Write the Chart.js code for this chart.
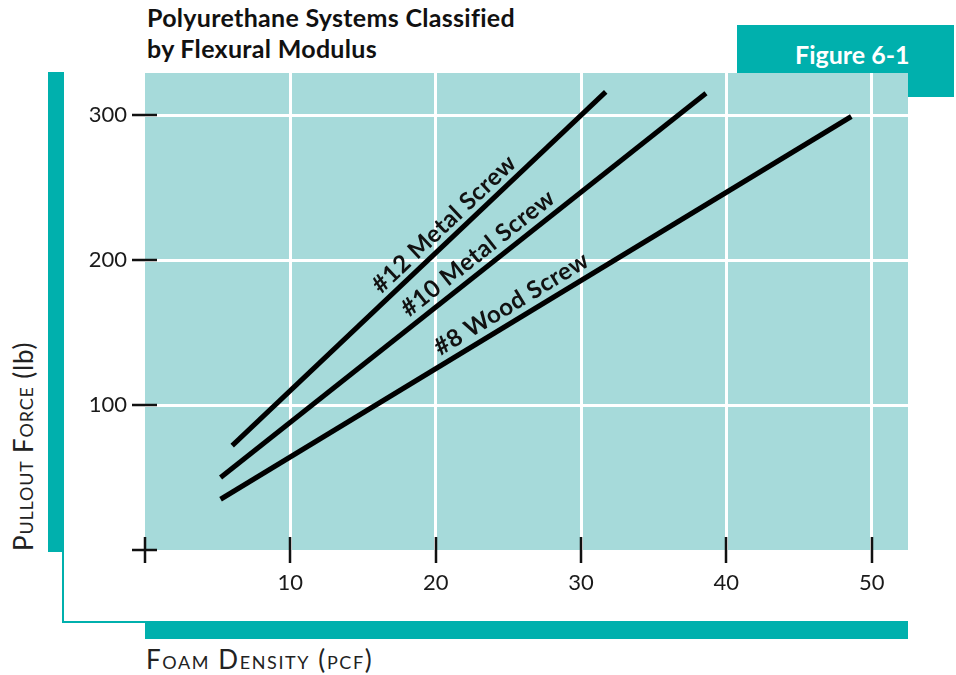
<!DOCTYPE html>
<html>
<head>
<meta charset="utf-8">
<title>Pullout Force vs Foam Density</title>
<script src="https://cdn.jsdelivr.net/npm/chart.js@4.4.1/dist/chart.umd.min.js"></script>
<style>
  body { margin: 0; background: #fff; }
  #page { position: relative; width: 956px; height: 675px; overflow: hidden; font-family: Lato, "Open Sans", sans-serif; }
  .teal { position: absolute; background: #00b0ad; }
  #titulo { position: absolute; left: 147px; top: 2px; font-weight: bold; font-size: 25px; letter-spacing: 0.3px; line-height: 31px; color: #111; }
  #figura { position: absolute; left: 737px; top: 25px; width: 217px; height: 72px; background: #00b0ad; }
  #figura span { position: absolute; left: 58px; top: 14px; color: #fff; font-weight: bold; font-size: 25px; }
  #eixoX { position: absolute; left: 146px; top: 643px; font-size: 26px; letter-spacing: 1.6px; font-variant: small-caps; color: #222; }
  #eixoY { position: absolute; left: 7px; top: 551px; font-size: 26px; letter-spacing: 0.8px; font-variant: small-caps; color: #222;
           transform-origin: 0 0; transform: rotate(-90deg); white-space: nowrap; }
  .min { font-variant: normal; }
  #grafico { position: absolute; left: 0; top: 0; }
</style>
</head>
<body>
<div id="page">
  <!-- molduras em verde-azulado -->
  <div class="teal" style="left:48px; top:72px; width:15px; height:480px;"></div>
  <div class="teal" style="left:62px; top:72px; width:2px; height:551px;"></div>
  <div class="teal" style="left:62px; top:621px; width:84px; height:2px;"></div>
  <div class="teal" style="left:145px; top:621px; width:763px; height:18px;"></div>
  <div id="figura"><span>Figure 6-1</span></div>

  <div id="titulo">Polyurethane Systems Classified<br>by Flexural Modulus</div>
  <div id="eixoY">Pullout Force <span class="min">(lb)</span></div>
  <div id="eixoX">Foam Density (pcf)</div>

  <canvas id="grafico" width="956" height="675"></canvas>
</div>

<script>
// eixos
const densityTicks = [0, 10, 20, 30, 40, 50];
const forceTicks = [0, 100, 200, 300];

// curvas (densidade em pcf, forca em lb)
const screwNames = ["#12 Metal Screw", "#10 Metal Screw", "#8 Wood Screw"];
const metal12Density = [6.0, 31.7];
const metal12Force = [72, 316];
const metal10Density = [5.2, 38.6];
const metal10Force = [50, 315];
const wood8Density = [5.2, 48.6];
const wood8Force = [35, 299];

function pontos(xs, ys) {
  return xs.map((x, i) => ({ x: x, y: ys[i] }));
}

const series = [
  pontos(metal12Density, metal12Force),
  pontos(metal10Density, metal10Force),
  pontos(wood8Density, wood8Force),
];

// fundo da area do grafico
const fundo = {
  id: "fundo",
  beforeDraw(chart) {
    const a = chart.chartArea;
    const c = chart.ctx;
    c.save();
    c.fillStyle = "#a6dada";
    c.fillRect(a.left, a.top, a.right - a.left, a.bottom - a.top);
    c.restore();
  },
};

// marcas pretas cruzando a borda dos eixos
const marcas = {
  id: "marcas",
  afterDraw(chart) {
    const c = chart.ctx;
    const xs = chart.scales.x;
    const ys = chart.scales.y;
    const a = chart.chartArea;
    c.save();
    c.strokeStyle = "#111";
    c.lineWidth = 2.5;
    c.beginPath();
    xs.ticks.forEach((t) => {
      const px = Math.round(xs.getPixelForValue(t.value));
      c.moveTo(px, a.bottom - 13);
      c.lineTo(px, a.bottom + 13);
    });
    ys.ticks.forEach((t) => {
      const py = Math.round(ys.getPixelForValue(t.value));
      c.moveTo(a.left - 13, py);
      c.lineTo(a.left + 12, py);
    });
    c.stroke();
    c.restore();
  },
};

// nomes escritos ao longo de cada reta
const rotulos = {
  id: "rotulos",
  afterDatasetsDraw(chart, args, opts) {
    const c = chart.ctx;
    const xs = chart.scales.x;
    c.save();
    c.font = "bold 24px Lato, sans-serif";
    c.letterSpacing = "0.5px";
    c.fillStyle = "#111";
    c.textAlign = "center";
    c.textBaseline = "middle";
    chart.data.datasets.forEach((ds, i) => {
      const pts = chart.getDatasetMeta(i).data;
      const p0 = pts[0], p1 = pts[pts.length - 1];
      const ang = Math.atan2(p1.y - p0.y, p1.x - p0.x);
      const px = xs.getPixelForValue(opts.at[i]);
      const py = p0.y + (p1.y - p0.y) * (px - p0.x) / (p1.x - p0.x);
      const d = opts.gap[i];
      c.save();
      c.translate(px + Math.sin(ang) * d, py - Math.cos(ang) * d);
      c.rotate(ang);
      c.fillText(ds.label, 0, 0);
      c.restore();
    });
    c.restore();
  },
};

const ctx = document.getElementById("grafico").getContext("2d");

const grafico = new Chart(ctx, {
  type: "line",
  data: {
    datasets: series.map((s, i) => ({
      label: screwNames[i],
      data: s,
      borderColor: "#000",
      borderWidth: 5,
      borderCapStyle: "butt",
      pointRadius: 0,
      tension: 0,
    })),
  },
  options: {
    responsive: false,
    animation: false,
    layout: { padding: { left: 0, top: 73, right: 48, bottom: 65 } },
    plugins: {
      legend: { display: false },
      tooltip: { enabled: false },
      rotulos: { at: [21.3, 23.6, 25.8], gap: [15, 16, 16] },
    },
    scales: {
      x: {
        type: "linear",
        min: 0,
        max: 52.5,
        afterBuildTicks: (s) => { s.ticks = densityTicks.map((v) => ({ value: v })); },
        afterFit: (s) => { s.height = 60; },
        border: { display: false },
        grid: {
          color: (c) => (c.tick && c.tick.value === 0 ? "rgba(0,0,0,0)" : "#fff"),
          lineWidth: 3,
          drawTicks: false,
        },
        ticks: {
          padding: 20,
          color: "#1a1a1a",
          font: { family: "Lato", size: 22 },
          maxRotation: 0,
          callback: (v) => (v === 0 ? "" : v),
        },
      },
      y: {
        type: "linear",
        min: 0,
        max: 329,
        afterBuildTicks: (s) => { s.ticks = forceTicks.map((v) => ({ value: v })); },
        afterFit: (s) => { s.width = 145; },
        border: { display: false },
        grid: {
          color: (c) => (c.tick && c.tick.value === 0 ? "rgba(0,0,0,0)" : "#fff"),
          lineWidth: 3,
          drawTicks: false,
        },
        ticks: {
          padding: 18,
          color: "#1a1a1a",
          font: { family: "Lato", size: 22 },
          callback: (v) => (v === 0 ? "" : v),
        },
      },
    },
  },
  plugins: [fundo, marcas, rotulos],
});
</script>
</body>
</html>
